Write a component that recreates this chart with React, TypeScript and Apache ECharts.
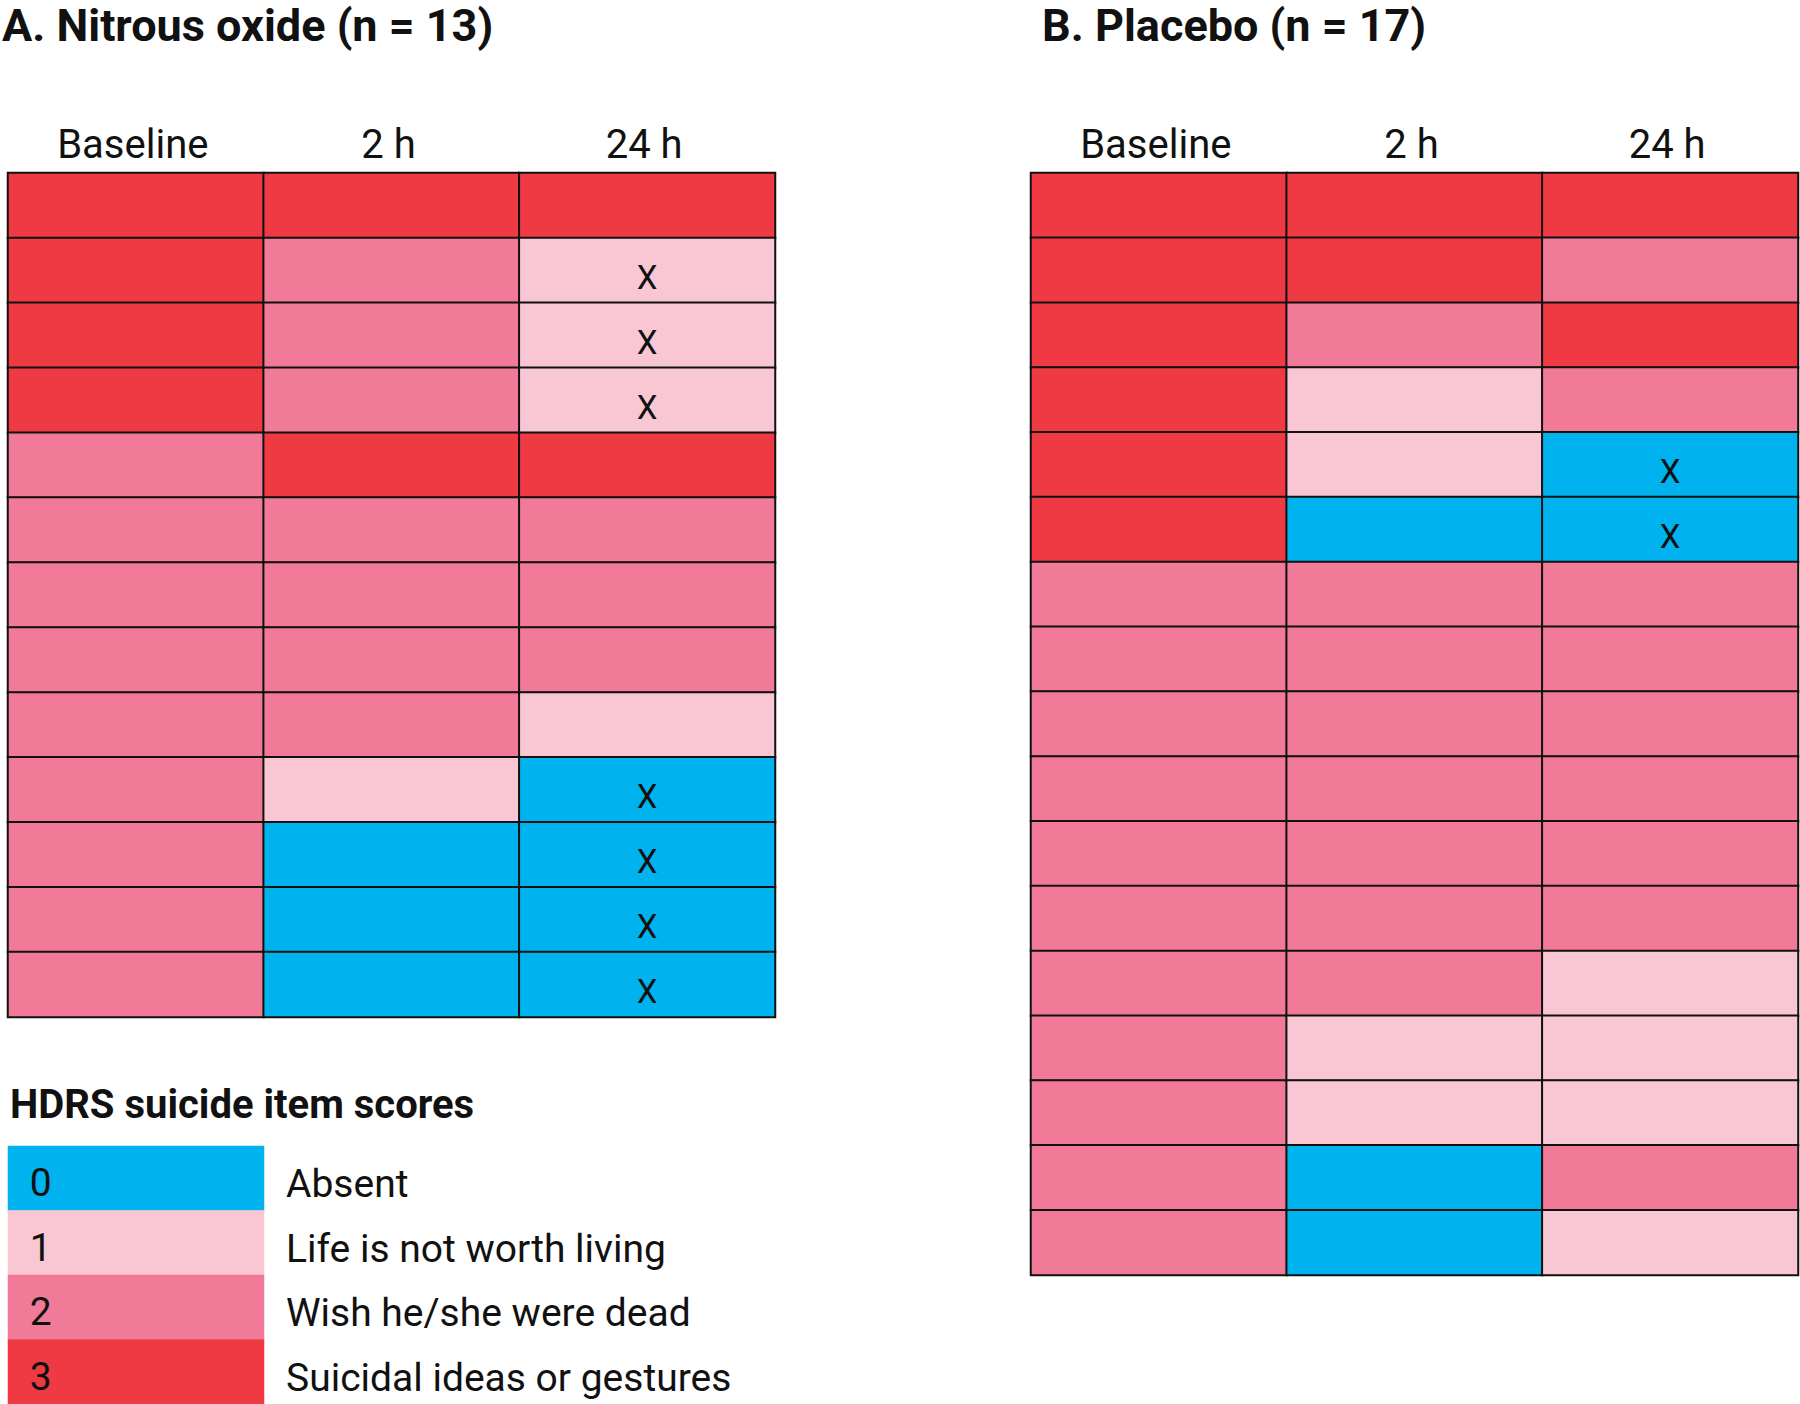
import React, { useEffect, useRef } from 'react';
import * as echarts from 'echarts';

const timepoints = ['Baseline', '2 h', '24 h'];

const nitrousBaseline = [3, 3, 3, 3, 2, 2, 2, 2, 2, 2, 2, 2, 2];
const nitrous2h = [3, 2, 2, 2, 3, 2, 2, 2, 2, 1, 0, 0, 0];
const nitrous24h = [3, 1, 1, 1, 3, 2, 2, 2, 1, 0, 0, 0, 0];
const nitrousMarked24h = [0, 1, 1, 1, 0, 0, 0, 0, 0, 1, 1, 1, 1];

const placeboBaseline = [3, 3, 3, 3, 3, 3, 2, 2, 2, 2, 2, 2, 2, 2, 2, 2, 2];
const placebo2h = [3, 3, 2, 1, 1, 0, 2, 2, 2, 2, 2, 2, 2, 1, 1, 0, 0];
const placebo24h = [3, 2, 3, 2, 0, 0, 2, 2, 2, 2, 2, 2, 1, 1, 1, 2, 1];
const placeboMarked24h = [0, 0, 0, 0, 1, 1, 0, 0, 0, 0, 0, 0, 0, 0, 0, 0, 0];

const scoreValues = [0, 1, 2, 3];
const scoreLabels = ['Absent', 'Life is not worth living', 'Wish he/she were dead', 'Suicidal ideas or gestures'];
const scoreColors = ['#00B3EF', '#F9C7D4', '#F17A98', '#EF3A43'];

const titleA = 'A. Nitrous oxide (n = 13)';
const titleB = 'B. Placebo (n = 17)';
const legendTitle = 'HDRS suicide item scores';

const FONT = 'Roboto, "Noto Sans", sans-serif';

function buildCells(cols: number[][], marks: number[]) {
  const out: any[] = [];
  cols.forEach((col, c) => {
    col.forEach((v, r) => {
      out.push([c, r, v, c === 2 ? marks[r] : 0]);
    });
  });
  return out;
}

export default function App() {
  const ref = useRef<HTMLDivElement>(null);
  useEffect(() => {
    if (!ref.current) return;
    const chart = echarts.init(ref.current, null, { renderer: 'svg' });
    const rowsA = nitrousBaseline.map((_, i) => String(i + 1));
    const rowsB = placeboBaseline.map((_, i) => String(i + 1));
    const cellsA = buildCells([nitrousBaseline, nitrous2h, nitrous24h], nitrousMarked24h);
    const cellsB = buildCells([placeboBaseline, placebo2h, placebo24h], placeboMarked24h);
    const legendCells = scoreValues.map((v, i) => [0, i, v, 0]);

    const topXAxis = (gi: number) => ({
      type: 'category',
      gridIndex: gi,
      data: timepoints,
      position: 'top',
      axisLine: { show: false },
      axisTick: { show: false },
      splitLine: { show: false },
      axisLabel: { fontFamily: FONT, fontSize: 40, color: '#111', margin: 9, padding: [0, 6, 0, 0] },
    });
    const hiddenY = (gi: number, rows: string[]) => ({
      type: 'category',
      gridIndex: gi,
      data: rows,
      inverse: true,
      axisLine: { show: false },
      axisTick: { show: false },
      axisLabel: { show: false },
      splitLine: { show: false },
    });
    const cellStyle = { borderColor: '#111', borderWidth: 2 };
    const markLabel = {
      show: true,
      formatter: (p: any) => (p.data[3] ? 'X' : ''),
      fontFamily: FONT,
      fontSize: 33,
      color: '#111',
      offset: [0, 7],
    };

    chart.setOption({
      animation: false,
      backgroundColor: '#ffffff',
      grid: [
        { left: 8, top: 173, width: 767, height: 844 },
        { left: 1031, top: 173, width: 767, height: 1102 },
        { left: 8, top: 1146, width: 256, height: 258 },
      ],
      xAxis: [
        topXAxis(0),
        topXAxis(1),
        { type: 'category', gridIndex: 2, data: ['score'], show: false },
      ],
      yAxis: [
        hiddenY(0, rowsA),
        hiddenY(1, rowsB),
        {
          type: 'category',
          gridIndex: 2,
          data: scoreLabels,
          inverse: true,
          position: 'right',
          axisLine: { show: false },
          axisTick: { show: false },
          splitLine: { show: false },
          axisLabel: {
            fontFamily: FONT,
            fontSize: 39,
            color: '#111',
            margin: 22,
            align: 'left',
            verticalAlign: 'top',
            lineHeight: 12,
          },
        },
      ],
      visualMap: {
        type: 'piecewise',
        show: false,
        dimension: 2,
        seriesIndex: [0, 1, 2],
        pieces: scoreValues.map((v, i) => ({ value: v, color: scoreColors[i] })),
      },
      series: [
        {
          type: 'heatmap',
          xAxisIndex: 0,
          yAxisIndex: 0,
          data: cellsA,
          itemStyle: cellStyle,
          label: markLabel,
          emphasis: { disabled: true },
        },
        {
          type: 'heatmap',
          xAxisIndex: 1,
          yAxisIndex: 1,
          data: cellsB,
          itemStyle: cellStyle,
          label: markLabel,
          emphasis: { disabled: true },
        },
        {
          type: 'heatmap',
          xAxisIndex: 2,
          yAxisIndex: 2,
          data: legendCells,
          itemStyle: { borderWidth: 0 },
          label: {
            show: true,
            formatter: (p: any) => String(p.data[2]),
            position: 'insideLeft',
            distance: 22,
            offset: [0, 5],
            fontFamily: FONT,
            fontSize: 39,
            color: '#111',
          },
          emphasis: { disabled: true },
        },
      ],
      graphic: [
        {
          type: 'text',
          left: 2,
          top: 3,
          style: { text: titleA, fontFamily: FONT, fontSize: 45, fontWeight: 'bold', fill: '#111' },
        },
        {
          type: 'text',
          left: 1042,
          top: 3,
          style: { text: titleB, fontFamily: FONT, fontSize: 45, fontWeight: 'bold', fill: '#111' },
        },
        {
          type: 'text',
          left: 10,
          top: 1084,
          style: { text: legendTitle, fontFamily: FONT, fontSize: 40, fontWeight: 'bold', fill: '#111' },
        },
      ],
    });
    return () => chart.dispose();
  }, []);
  return <div ref={ref} style={{ position: 'fixed', left: 0, top: 0, width: 1800, height: 1404 }} />;
}
